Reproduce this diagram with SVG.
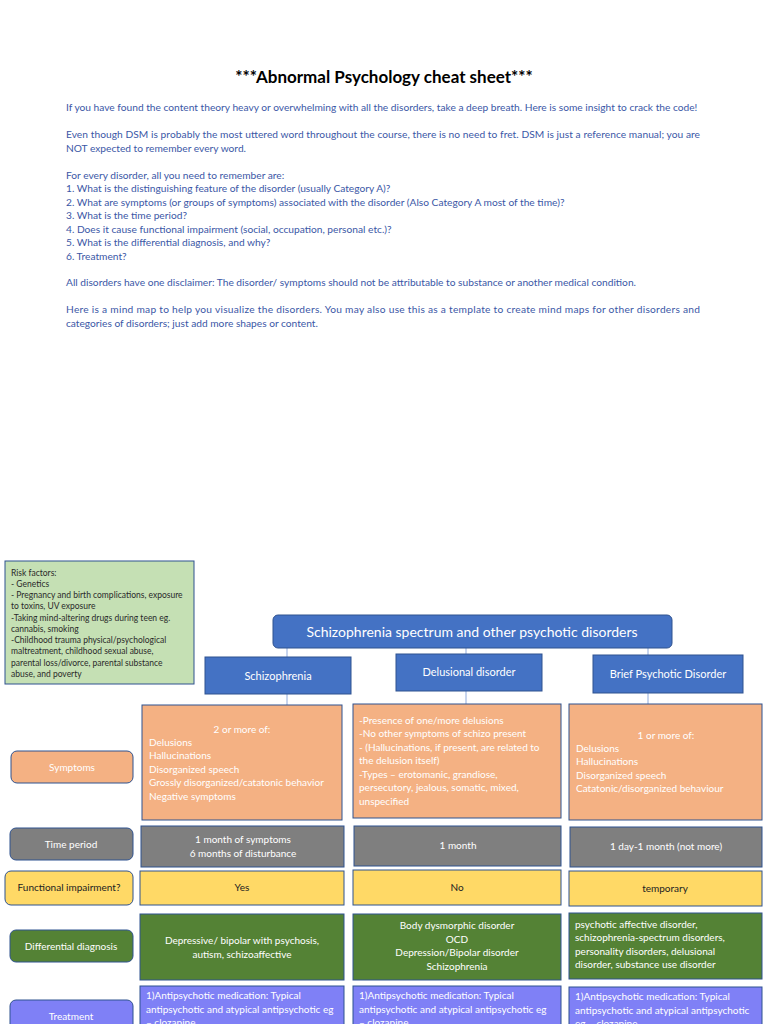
<svg xmlns="http://www.w3.org/2000/svg" width="768" height="1024" viewBox="0 0 768 1024">
<style>
text{font-family:Lato,"Open Sans","Liberation Sans",sans-serif}
.p{font-size:10.2px;fill:#3b57a6}
.w{fill:#ffffff;font-size:10px}
.d{fill:#222222;font-size:10px}
.c{text-anchor:middle}
.bx{stroke:#2f528f;stroke-width:1}
.blue{fill:#4472c4}
.or{fill:#f4b183}
.gr{fill:#7f7f7f}
.ye{fill:#ffd966}
.gn{fill:#548235}
.pu{fill:#7f80f6}
.rf{font-size:8.5px;fill:#2a2a2a}
.ln{stroke:#8faadc;stroke-width:1;fill:none}
</style>
<rect width="768" height="1024" fill="#ffffff"/>
<g id="intro">
<text x="384" y="83" class="c" style="font-size:17px;font-weight:bold;fill:#000">***Abnormal Psychology cheat sheet***</text>
<text class="p" x="66" y="111">If you have found the content theory heavy or overwhelming with all the disorders, take a deep breath. Here is some insight to crack the code!</text>
<text class="p" x="66" y="138" textLength="634" lengthAdjust="spacing">Even though DSM is probably the most uttered word throughout the course, there is no need to fret. DSM is just a reference manual; you are</text>
<text class="p" x="66" y="152">NOT expected to remember every word.</text>
<text class="p" x="66" y="179">For every disorder, all you need to remember are:</text>
<text class="p" x="66" y="192">1. What is the distinguishing feature of the disorder (usually Category A)?</text>
<text class="p" x="66" y="206">2. What are symptoms (or groups of symptoms) associated with the disorder (Also Category A most of the time)?</text>
<text class="p" x="66" y="219">3. What is the time period?</text>
<text class="p" x="66" y="233">4. Does it cause functional impairment (social, occupation, personal etc.)?</text>
<text class="p" x="66" y="246">5. What is the differential diagnosis, and why?</text>
<text class="p" x="66" y="260">6. Treatment?</text>
<text class="p" x="66" y="286">All disorders have one disclaimer: The disorder/ symptoms should not be attributable to substance or another medical condition.</text>
<text class="p" x="66" y="313" textLength="634" lengthAdjust="spacing">Here is a mind map to help you visualize the disorders. You may also use this as a template to create mind maps for other disorders and</text>
<text class="p" x="66" y="327">categories of disorders; just add more shapes or content.</text>
</g>
<g id="risk-factors">
<rect x="5" y="561" width="189" height="123" fill="#c5e0b4" class="bx"/>
<text class="rf" x="11" y="576">Risk factors:</text>
<text class="rf" x="11" y="587">- Genetics</text>
<text class="rf" x="11" y="598">- Pregnancy and birth complications, exposure</text>
<text class="rf" x="11" y="609">to toxins, UV exposure</text>
<text class="rf" x="11" y="621">-Taking mind-altering drugs during teen eg.</text>
<text class="rf" x="11" y="632">cannabis, smoking</text>
<text class="rf" x="11" y="643">-Childhood trauma physical/psychological</text>
<text class="rf" x="11" y="654">maltreatment, childhood sexual abuse,</text>
<text class="rf" x="11" y="666">parental loss/divorce, parental substance</text>
<text class="rf" x="11" y="677">abuse, and poverty</text>
</g>
<g id="connectors">
<line class="ln" x1="287" y1="648" x2="287" y2="657"/>
<line class="ln" x1="466" y1="648" x2="466" y2="654"/>
<line class="ln" x1="648" y1="648" x2="648" y2="655"/>
<line class="ln" x1="287" y1="694" x2="287" y2="705"/>
<line class="ln" x1="466" y1="691" x2="466" y2="704"/>
<line class="ln" x1="648" y1="693" x2="648" y2="704"/>
</g>
<g id="header">
<rect x="273" y="615" width="399" height="33" rx="5" class="bx blue"/>
<text x="472" y="637" class="w c" style="font-size:14px">Schizophrenia spectrum and other psychotic disorders</text>
</g>
<g id="schizophrenia">
<rect x="205" y="657" width="146" height="37" class="bx blue"/>
<text x="278" y="680" class="w c" style="font-size:11px">Schizophrenia</text>
</g>
<g id="delusional-disorder">
<rect x="396" y="654" width="146" height="37" class="bx blue"/>
<text x="469" y="676" class="w c" style="font-size:11px">Delusional disorder</text>
</g>
<g id="brief-psychotic-disorder">
<rect x="593" y="655" width="150" height="38" class="bx blue"/>
<text x="668" y="678" class="w c" style="font-size:11px">Brief Psychotic Disorder</text>
</g>
<g id="symptoms-label">
<rect x="11" y="751" width="122" height="32" rx="6" class="bx or"/>
<text x="72" y="771" class="w c">Symptoms</text>
</g>
<g id="schizo-symptoms">
<rect x="142" y="705" width="200" height="115" class="bx or"/>
<text x="242" y="733" class="w c">2 or more of:</text>
<text x="149" y="746" class="w">Delusions</text>
<text x="149" y="759" class="w">Hallucinations</text>
<text x="149" y="773" class="w">Disorganized speech</text>
<text x="149" y="786" class="w">Grossly disorganized/catatonic behavior</text>
<text x="149" y="800" class="w">Negative symptoms</text>
</g>
<g id="delusional-symptoms">
<rect x="353" y="704" width="208" height="114" class="bx or"/>
<text x="359" y="724" class="w">-Presence of one/more delusions</text>
<text x="359" y="737" class="w">-No other symptoms of schizo present</text>
<text x="359" y="751" class="w">- (Hallucinations, if present, are related to</text>
<text x="359" y="764" class="w">the delusion itself)</text>
<text x="359" y="778" class="w">-Types – erotomanic, grandiose,</text>
<text x="359" y="791" class="w">persecutory, jealous, somatic, mixed,</text>
<text x="359" y="805" class="w">unspecified</text>
</g>
<g id="brief-symptoms">
<rect x="569" y="704" width="193" height="116" class="bx or"/>
<text x="666" y="739" class="w c">1 or more of:</text>
<text x="576" y="752" class="w">Delusions</text>
<text x="576" y="765" class="w">Hallucinations</text>
<text x="576" y="779" class="w">Disorganized speech</text>
<text x="576" y="792" class="w">Catatonic/disorganized behaviour</text>
</g>
<g id="time-label">
<rect x="10" y="828" width="123" height="32" rx="6" class="bx gr"/>
<text x="71" y="848" class="w c">Time period</text>
</g>
<g id="schizo-time">
<rect x="141" y="826" width="203" height="41" class="bx gr"/>
<text x="243" y="843" class="w c">1 month of symptoms</text>
<text x="243" y="857" class="w c">6 months of disturbance</text>
</g>
<g id="delusional-time">
<rect x="354" y="826" width="207" height="40" class="bx gr"/>
<text x="458" y="849" class="w c">1 month</text>
</g>
<g id="brief-time">
<rect x="570" y="827" width="192" height="40" class="bx gr"/>
<text x="666" y="850" class="w c">1 day-1 month (not more)</text>
</g>
<g id="impairment-label">
<rect x="5" y="871" width="128" height="34" rx="6" class="bx ye"/>
<text x="69" y="891" class="d c">Functional impairment?</text>
</g>
<g id="schizo-impairment">
<rect x="140" y="871" width="204" height="34" class="bx ye"/>
<text x="242" y="891" class="d c">Yes</text>
</g>
<g id="delusional-impairment">
<rect x="353" y="870" width="208" height="35" class="bx ye"/>
<text x="457" y="891" class="d c">No</text>
</g>
<g id="brief-impairment">
<rect x="569" y="871" width="193" height="35" class="bx ye"/>
<text x="665" y="892" class="d c">temporary</text>
</g>
<g id="differential-label">
<rect x="10" y="930" width="123" height="32" rx="6" class="bx gn"/>
<text x="71" y="950" class="w c">Differential diagnosis</text>
</g>
<g id="schizo-differential">
<rect x="140" y="914" width="204" height="66" class="bx gn"/>
<text x="242" y="944" class="w c">Depressive/ bipolar with psychosis,</text>
<text x="242" y="958" class="w c">autism, schizoaffective</text>
</g>
<g id="delusional-differential">
<rect x="353" y="914" width="208" height="66" class="bx gn"/>
<text x="457" y="929" class="w c">Body dysmorphic disorder</text>
<text x="457" y="943" class="w c">OCD</text>
<text x="457" y="956" class="w c">Depression/Bipolar disorder</text>
<text x="457" y="970" class="w c">Schizophrenia</text>
</g>
<g id="brief-differential">
<rect x="569" y="913" width="193" height="66" class="bx gn"/>
<text x="575" y="928" class="w">psychotic affective disorder,</text>
<text x="575" y="941" class="w">schizophrenia-spectrum disorders,</text>
<text x="575" y="955" class="w">personality disorders, delusional</text>
<text x="575" y="968" class="w">disorder, substance use disorder</text>
</g>
<g id="treatment-label">
<rect x="10" y="1000" width="123" height="40" rx="6" class="bx pu"/>
<text x="71" y="1020" class="w c">Treatment</text>
</g>
<g id="schizo-treatment">
<rect x="140" y="986" width="204" height="60" class="bx pu"/>
<text x="146" y="999" class="w">1)Antipsychotic medication: Typical</text>
<text x="146" y="1013" class="w">antipsychotic and atypical antipsychotic eg</text>
<text x="146" y="1026" class="w">– clozapine</text>
</g>
<g id="delusional-treatment">
<rect x="353" y="986" width="208" height="60" class="bx pu"/>
<text x="359" y="999" class="w">1)Antipsychotic medication: Typical</text>
<text x="359" y="1013" class="w">antipsychotic and atypical antipsychotic eg</text>
<text x="359" y="1026" class="w">– clozapine</text>
</g>
<g id="brief-treatment">
<rect x="569" y="987" width="193" height="60" class="bx pu"/>
<text x="575" y="1000" class="w">1)Antipsychotic medication: Typical</text>
<text x="575" y="1014" class="w">antipsychotic and atypical antipsychotic</text>
<text x="575" y="1027" class="w">eg – clozapine</text>
</g>
</svg>
